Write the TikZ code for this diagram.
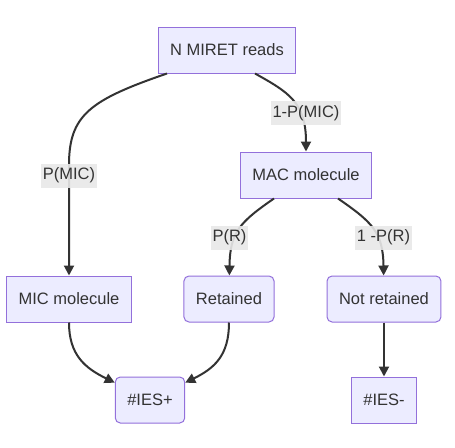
\documentclass[tikz,border=0pt]{standalone}
\usepackage{fontspec}
\setmainfont{Liberation Sans}
\usetikzlibrary{arrows.meta, calc}
\definecolor{mfill}{HTML}{ECECFF}
\definecolor{mline}{HTML}{9370DB}
\definecolor{mtext}{HTML}{333333}
\definecolor{mlabel}{HTML}{E8E8E8}
\tikzset{
  every picture/.style={font=\fontsize{16.5}{19}\selectfont, line width=1pt},
  box/.style={draw=mline, fill=mfill, text=mtext, inner xsep=12pt, minimum height=46pt},
  rbox/.style={box, rounded corners=5pt},
  arrow/.style={-{Triangle[length=10pt, width=10pt]}, draw=mtext, line width=2pt},
  elabel/.style={fill=mlabel, fill opacity=0.9, text opacity=1, text=mtext, inner sep=2pt, minimum height=24pt},
}

\begin{document}
\begin{tikzpicture}[x=1pt, y=-1pt]
  \useasboundingbox[fill=white] (0,0) rectangle (455,447);
  % nodes
  \node[box] (reads) at (227,50) {N MIRET reads};
  \node[box] (mac) at (306,175) {MAC molecule};
  \node[box] (mic) at (69,299) {MIC molecule};
  \node[rbox] (ret) at (229,299) {Retained};
  \node[rbox] (nret) at (384,299) {Not retained};
  \node[rbox] (iesp) at (150,400) {\#IES+};
  \node[box] (iesm) at (384,400) {\#IES-};
  % edges
  \draw[arrow] ([xshift=-60pt]reads.south) .. controls (90,100) and (69,115) .. (69,165) -- (mic);
  \draw[arrow] ([xshift=28pt]reads.south) .. controls (288,92) and (306,102) .. (mac);
  \draw[arrow] ([xshift=-32pt]mac.south) .. controls (240,222) and (230,232) .. (ret);
  \draw[arrow] ([xshift=32pt]mac.south) .. controls (372,222) and (383,232) .. (nret);
  \draw[arrow] (mic) .. controls (69,355) and (85,368) .. (iesp);
  \draw[arrow] (ret) .. controls (229,355) and (215,368) .. (iesp);
  \draw[arrow] (nret) -- (iesm);
  % edge labels
  \node[elabel] (lpmic) at (69,175.5) {P(MIC)};
  \node[elabel] (lqmic) at (306,113) {1-P(MIC)};
  \node[elabel] (lpr) at (229.5,237.5) {P(R)};
  \node[elabel] (lqr) at (383.5,237.5) {1 -P(R)};
\end{tikzpicture}
\end{document}
